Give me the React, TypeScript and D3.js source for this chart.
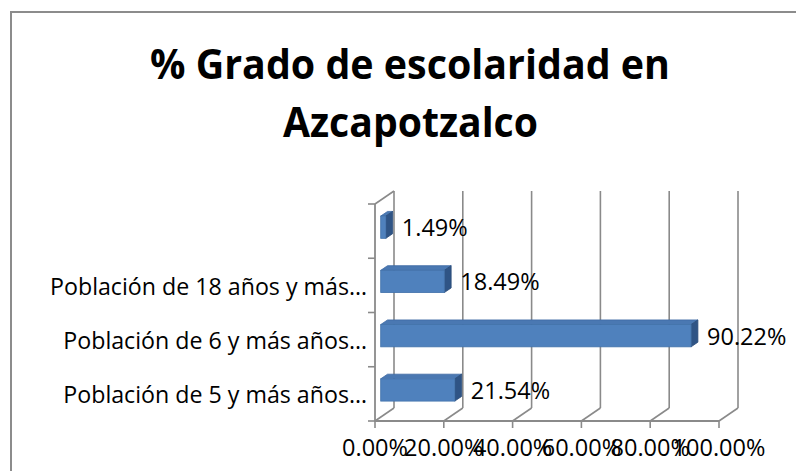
import React from "react";
import * as d3 from "d3";

const categories = [
  "Población de 5 y más años…",
  "Población de 6 y más años…",
  "Población de 18 años y más…",
  "",
];
const values = [0.2154, 0.9022, 0.1849, 0.0149];
const tickValues = [0, 0.2, 0.4, 0.6, 0.8, 1.0];
const titleLines = ["% Grado de escolaridad en", "Azcapotzalco"];

const W = 796;
const H = 471;
const FONT = "'Open Sans', 'Noto Sans', sans-serif";

export default function App() {
  const left = 375;
  const right = 719;
  const top = 204;
  const bottom = 421;
  const D = { x: 19, y: -13 };
  const f0 = 0.3;
  const f1 = 0.66;

  const x = d3.scaleLinear().domain([0, 1]).range([left, right]);
  const y = d3
    .scaleBand<string>()
    .domain(categories.map((_, i) => String(i)).reverse())
    .range([top, bottom])
    .paddingInner(0.59)
    .paddingOuter(0.295);
  const step = y.step();
  const bw = y.bandwidth();
  const fmt = d3.format(".2%");
  const axisColor = "#8a8a8a";
  const line = d3.line();

  const boundaries = d3.range(categories.length + 1).map((i) => top + i * step);

  return (
    <svg
      width={W}
      height={H}
      style={{ position: "absolute", left: 0, top: 0, background: "#fff" }}
      fontFamily={FONT}
    >
      <rect x={0} y={0} width={W} height={H} fill="#fff" />
      <rect x={11} y={12} width={W + 20} height={H + 20} fill="none" stroke="#8c8c8c" strokeWidth={2} />

      {/* title */}
      <text x={410} y={79} textAnchor="middle" fontSize={42} fontWeight="bold" fill="#000" textLength={520} lengthAdjust="spacingAndGlyphs">
        {titleLines[0]}
      </text>
      <text x={410.5} y={137} textAnchor="middle" fontSize={42} fontWeight="bold" fill="#000" textLength={255} lengthAdjust="spacingAndGlyphs">
        {titleLines[1]}
      </text>

      {/* back wall gridlines */}
      {tickValues.map((t) => (
        <path
          key={"g" + t}
          d={line([
            [x(t) + D.x, bottom + D.y],
            [x(t) + D.x, top + D.y],
          ]) || ""}
          stroke={axisColor}
          strokeWidth={1.6}
          fill="none"
        />
      ))}
      {/* floor diagonals */}
      {tickValues.map((t) => (
        <path
          key={"f" + t}
          d={line([
            [x(t), bottom],
            [x(t) + D.x, bottom + D.y],
          ]) || ""}
          stroke={axisColor}
          strokeWidth={1.6}
          fill="none"
        />
      ))}
      {/* left wall top diagonal */}
      <path
        d={line([
          [left, top],
          [left + D.x, top + D.y],
        ]) || ""}
        stroke={axisColor}
        strokeWidth={1.6}
        fill="none"
      />
      {/* front axes */}
      <path d={`M${left},${top}V${bottom}H${right}`} stroke={axisColor} strokeWidth={1.8} fill="none" />
      {boundaries.map((b, i) => (
        <path key={"ct" + i} d={`M${left - 7},${b}H${left}`} stroke={axisColor} strokeWidth={1.6} />
      ))}
      {tickValues.map((t) => (
        <path key={"xt" + t} d={`M${x(t)},${bottom}V${bottom + 7}`} stroke={axisColor} strokeWidth={1.6} />
      ))}
      {tickValues.map((t) => (
        <text key={"xl" + t} x={x(t)} y={456} textAnchor="middle" fontSize={23.5} fill="#000">
          {fmt(t)}
        </text>
      ))}

      {/* category labels */}
      {categories.map((c, i) => (
        <text
          key={"cl" + i}
          x={367}
          y={(y(String(i)) as number) + bw / 2 + 9.5}
          textAnchor="end"
          fontSize={23.2}
          fill="#000"
        >
          {c}
        </text>
      ))}

      {/* bars */}
      {values.map((v, i) => {
        const x0 = x(0) + f0 * D.x;
        const x1 = x(v) + f0 * D.x;
        const y0 = (y(String(i)) as number) + f0 * D.y;
        const h = bw;
        const dx = (f1 - f0) * D.x;
        const dy = (f1 - f0) * D.y;
        return (
          <g key={"b" + i}>
            <polygon
              points={`${x0},${y0} ${x1},${y0} ${x1 + dx},${y0 + dy} ${x0 + dx},${y0 + dy}`}
              fill="#4a78b2"
              stroke="#3d6aa3"
              strokeWidth={0.8}
            />
            <polygon
              points={`${x1},${y0} ${x1 + dx},${y0 + dy} ${x1 + dx},${y0 + dy + h} ${x1},${y0 + h}`}
              fill="#2f5485"
              stroke="#2a4b78"
              strokeWidth={0.8}
            />
            <rect x={x0} y={y0} width={x1 - x0} height={h} fill="#4f81bd" stroke="#4272ab" strokeWidth={0.8} />
            <text x={x1 + 16} y={y0 + h / 2 + 9} fontSize={23.5} fill="#000">
              {fmt(v)}
            </text>
          </g>
        );
      })}
    </svg>
  );
}
